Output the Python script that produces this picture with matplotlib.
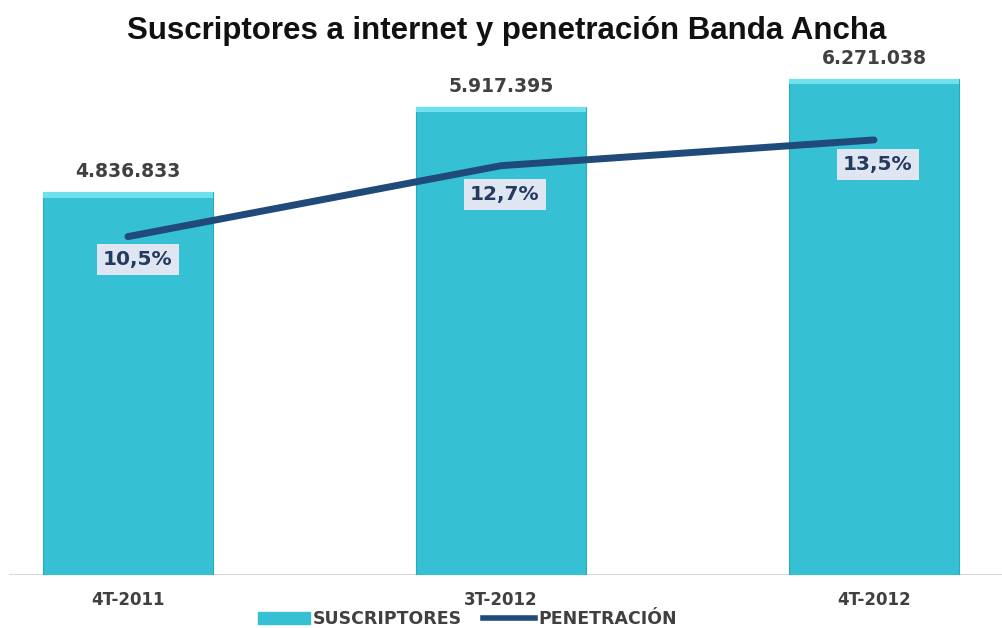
import matplotlib.pyplot as plt
import matplotlib.patches as mpatches
from matplotlib.lines import Line2D

periodos = ['4T-2011', '3T-2012', '4T-2012']
suscriptores = [4836833, 5917395, 6271038]
etiquetas_susc = ['4.836.833', '5.917.395', '6.271.038']
penetracion = [10.5, 12.7, 13.5]
etiquetas_pen = ['10,5%', '12,7%', '13,5%']

color_barra = '#35c0d3'
color_linea = '#1f4a7a'

plt.rcParams['font.family'] = ['Liberation Sans', 'DejaVu Sans']
label_font = ['DejaVu Sans']

fig = plt.figure(figsize=(10.03, 6.28), dpi=100)
ax = fig.add_axes([0.0, (628 - 575) / 628, 1.0, (575 - 40) / 628], frameon=False)

x = list(range(len(periodos)))
ax.bar(x, suscriptores, width=0.456, color=color_barra, edgecolor='#2aa9bb', linewidth=0.8, zorder=2)
# bevel highlight on top of bars
for xi, v in zip(x, suscriptores):
    ax.bar(xi, 0.01 * 6.76e6, bottom=v - 0.01 * 6.76e6, width=0.456, color='#6fe0ee', linewidth=0, zorder=3)
ax.set_xlim(-0.343, 2.346)
ax.set_ylim(0, 6.76e6)
ax.axhline(0, xmin=0.01, xmax=1, color='#d9d9d9', linewidth=1.5, zorder=1)
ax.set_xticks([])
ax.set_yticks([])

for xi, v, t in zip(x, suscriptores, etiquetas_susc):
    ax.text(xi, v + 0.26e6, t, ha='center', va='center', fontsize=13.5, fontweight='bold',
            color='#404040', family=label_font)

for xi, t in zip(x, periodos):
    ax.text(xi, -0.32e6, t, ha='center', va='center', fontsize=12, fontweight='bold',
            color='#404040', family=label_font)

ax2 = ax.twinx()
ax2.set_ylim(0, 16.6)
ax2.plot(x, penetracion, color=color_linea, linewidth=5, solid_capstyle='round', zorder=4)
ax2.set_yticks([])
ax2.set_frame_on(False)
offsets_px = [(10, -23), (4, -29), (4, -25)]
for xi, v, t, (dx, dy) in zip(x, penetracion, etiquetas_pen, offsets_px):
    ax2.annotate(t, (xi, v), xytext=(dx * 0.72, dy * 0.72), textcoords='offset points',
                 ha='center', va='center', fontsize=14.5, fontweight='bold', color='#243a5e',
                 family=label_font,
                 bbox=dict(boxstyle='square,pad=0.3', facecolor='#dfe6f2', edgecolor='none'))

fig.text(0.505, 1 - 31 / 628, 'Suscriptores a internet y penetración Banda Ancha', ha='center', va='center',
         fontsize=22.5, fontweight='bold', color='#111111')

handles = [mpatches.Patch(color=color_barra, label='SUSCRIPTORES'),
           Line2D([0], [0], color=color_linea, linewidth=4, label='PENETRACIÓN')]
leg = fig.legend(handles=handles, loc='center', bbox_to_anchor=(0.466, 1 - 619 / 628), ncol=2, frameon=False,
                 handlelength=3.0, handletextpad=0.2, columnspacing=1.2,
                 prop={'weight': 'bold', 'size': 12.5, 'family': label_font})
for txt in leg.get_texts():
    txt.set_color('#404040')

fig.savefig('out.png', dpi=100)
